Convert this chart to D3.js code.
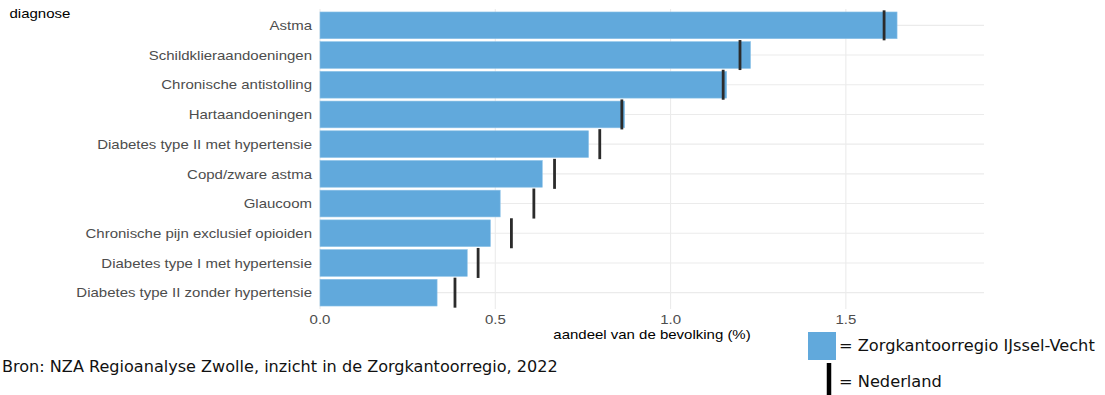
<!DOCTYPE html>
<html><head><meta charset="utf-8">
<script src="https://cdn.jsdelivr.net/npm/d3@7/dist/d3.min.js"></script>
<style>body{margin:0;background:#fff}svg{display:block}</style>
</head><body>
<svg id="c" width="1105" height="395"></svg>
<script>
const categories = ["Astma","Schildklieraandoeningen","Chronische antistolling","Hartaandoeningen","Diabetes type II met hypertensie","Copd/zware astma","Glaucoom","Chronische pijn exclusief opioiden","Diabetes type I met hypertensie","Diabetes type II zonder hypertensie"];
const regioValues = [1.646,1.228,1.160,0.869,0.766,0.634,0.514,0.486,0.420,0.334];
const nederlandValues = [1.609,1.198,1.150,0.861,0.798,0.669,0.610,0.546,0.451,0.385];
const xTicks = [0.0,0.5,1.0,1.5];
const xTickLabels = ["0.0","0.5","1.0","1.5"];
const yAxisTitle = "diagnose";
const xAxisTitle = "aandeel van de bevolking (%)";
const sourceText = "Bron: NZA Regioanalyse Zwolle, inzicht in de Zorgkantoorregio, 2022";
const legendLabels = ["= Zorgkantoorregio IJssel-Vecht","= Nederland"];

const svg = d3.select("#c");
const panel = {left:320, right:984, top:9, bottom:309};
const blue = "#61a9dc";
const sx = 1.154; // horizontal stretch of the sans texts
const af = "Liberation Sans, Arial, sans-serif";
const x = d3.scaleLinear().domain([0,1.894]).range([panel.left,panel.right]);
const y = d3.scaleBand().domain(categories).range([panel.top,panel.bottom]).padding(0.1);

const g = svg.append("g");
g.selectAll(".vg").data(xTicks).join("line")
  .attr("x1",d=>x(d)).attr("x2",d=>x(d)).attr("y1",panel.top).attr("y2",panel.bottom)
  .attr("stroke","#ebebeb").attr("stroke-width",1.1);
g.selectAll(".hg").data(categories).join("line")
  .attr("x1",panel.left).attr("x2",panel.right)
  .attr("y1",d=>y(d)+y.bandwidth()/2).attr("y2",d=>y(d)+y.bandwidth()/2)
  .attr("stroke","#ebebeb").attr("stroke-width",1.1);
g.selectAll(".bar").data(categories).join("rect")
  .attr("x",x(0)).attr("y",d=>y(d))
  .attr("width",(d,i)=>x(regioValues[i])-x(0)).attr("height",y.bandwidth())
  .attr("fill",blue).attr("stroke","#8cc2e8").attr("stroke-width",0.6);
g.selectAll(".mk").data(categories).join("line")
  .attr("x1",(d,i)=>x(nederlandValues[i])).attr("x2",(d,i)=>x(nederlandValues[i]))
  .attr("y1",d=>y(d)+y.bandwidth()/2-15).attr("y2",d=>y(d)+y.bandwidth()/2+15)
  .attr("stroke","#2b2b2b").attr("stroke-width",2.8);

function stretched(parent, px, py, anchor, size, fill, txt){
  return parent.append("text")
    .attr("transform",`translate(${px},${py}) scale(${sx},1)`)
    .attr("text-anchor",anchor).attr("font-family",af).attr("font-size",size)
    .attr("fill",fill).text(txt);
}
categories.forEach(c=>stretched(g,312,y(c)+y.bandwidth()/2+4.7,"end",13,"#4d4d4d",c));
xTicks.forEach((t,i)=>stretched(g,x(t),323.5,"middle",13,"#4d4d4d",xTickLabels[i]));
stretched(svg,(panel.left+panel.right)/2,338.5,"middle",13,"#000",xAxisTitle);
stretched(svg,9.5,18,"start",13,"#000",yAxisTitle);

function fitText(sel, target){
  const w = sel.node().getComputedTextLength();
  const fs = +sel.attr("font-size");
  sel.attr("font-size", fs*target/w);
}
const vf = "Verdana, DejaVu Sans, sans-serif";
const src = svg.append("text").attr("x",2).attr("y",372).attr("font-family",vf).attr("font-size",15).attr("fill","#111").text(sourceText);
fitText(src,556);
svg.append("rect").attr("x",808).attr("y",332).attr("width",28).attr("height",28).attr("fill",blue);
const l1 = svg.append("text").attr("x",839).attr("y",351).attr("font-family",vf).attr("font-size",15).attr("fill","#111").text(legendLabels[0]);
fitText(l1,256);
svg.append("line").attr("x1",829).attr("x2",829).attr("y1",363).attr("y2",395).attr("stroke","#000").attr("stroke-width",4.5);
svg.append("text").attr("x",839).attr("y",387).attr("font-family",vf).attr("font-size",+l1.attr("font-size")).attr("fill","#111").text(legendLabels[1]);
</script>
</body></html>
